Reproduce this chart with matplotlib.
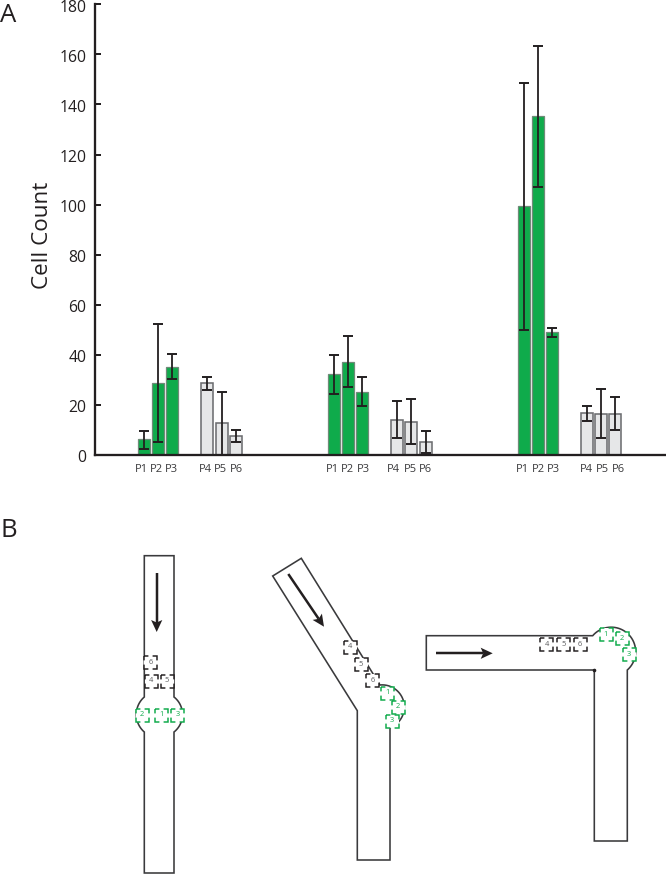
import numpy as np
import matplotlib
matplotlib.use("Agg")
import matplotlib.pyplot as plt
from matplotlib.patches import Rectangle, Polygon
from matplotlib.transforms import ScaledTranslation

plt.rcParams['font.family'] = ['Open Sans', 'DejaVu Sans']
plt.rcParams['lines.scale_dashes'] = False

W, H = 666, 875
INK = '#231f20'
GREEN = '#0fab4b'
GREY = '#e6e7e8'
PX = 72 / 100

# ---- panel A data
labels = ['P1', 'P2', 'P3', 'P4', 'P5', 'P6']
yticks = [0, 20, 40, 60, 80, 100, 120, 140, 160, 180]
values_g1 = [6.3, 28.9, 35.3, 28.6, 12.6, 7.7]
low_g1 = [2.5, 5.0, 30.2, 26.0, 0.0, 5.0]
high_g1 = [9.7, 52.5, 40.3, 31.3, 25.0, 10.1]
values_g2 = [32.4, 37.3, 25.2, 14.1, 13.3, 5.3]
low_g2 = [24.5, 27.0, 19.6, 6.7, 4.3, 0.9]
high_g2 = [40.0, 47.5, 31.0, 21.6, 22.4, 9.6]
values_g3 = [99.3, 135.3, 49.0, 16.6, 16.4, 16.5]
low_g3 = [50.0, 107.0, 47.3, 13.7, 6.8, 10.0]
high_g3 = [148.5, 163.4, 50.9, 19.6, 26.2, 23.0]

bar_x_g1 = [144, 158.3, 172.3, 207.3, 221.7, 235.7]
bar_x_g2 = [334, 348, 362.3, 397.3, 411.3, 425.7]
bar_x_g3 = [523.7, 538, 552, 587, 601.3, 615.3]
label_x_g1 = [141.7, 156, 171.7, 205, 220.7, 236]
label_x_g2 = [332.3, 347.7, 363.3, 393.3, 410, 425.3]
label_x_g3 = [522, 538.3, 553.7, 586.7, 602.7, 618.3]

fig = plt.figure(figsize=(W / 100, H / 100), dpi=100)
top_px, base_px, left_px = 4.3, 455.0, 95.0
ax = fig.add_axes([left_px / W, 1 - base_px / H, 1 - left_px / W, (base_px - top_px) / H])
ax.set_xlim(left_px, W)
ax.set_ylim(0, 180)
ax.patch.set_alpha(0)
for s in ('top', 'right'):
    ax.spines[s].set_visible(False)
for s in ('left', 'bottom'):
    ax.spines[s].set_linewidth(2.3 * PX)
    ax.spines[s].set_color(INK)

for xs, vals, lo, hi in ((bar_x_g1, values_g1, low_g1, high_g1),
                         (bar_x_g2, values_g2, low_g2, high_g2),
                         (bar_x_g3, values_g3, low_g3, high_g3)):
    xs, vals, lo, hi = map(np.array, (xs, vals, lo, hi))
    for i in range(6):
        green = i < 3
        ax.bar(xs[i], vals[i], width=11.8, color=GREEN if green else GREY,
               edgecolor='#6f8a78' if green else '#6d6e71',
               linewidth=0.9 if green else 1.15, zorder=2)
    ax.errorbar(xs, vals, yerr=[vals - lo, hi - vals], fmt='none', ecolor=INK,
                elinewidth=1.3, capsize=3.8, capthick=1.4, zorder=3, clip_on=False)

ax.set_yticks(yticks)
ax.tick_params(axis='y', direction='in', length=6 * PX, width=2.0 * PX, color=INK,
               labelsize=11.3, labelcolor=INK, pad=6.2)
shift = ScaledTranslation(0, -2.5 / 72 * PX * 1.39, fig.dpi_scale_trans)
for t in ax.get_yticklabels():
    t.set_va('center')
    t.set_transform(t.get_transform() + shift)
ax.set_xticks(label_x_g1 + label_x_g2 + label_x_g3)
ax.set_xticklabels(labels * 3, fontsize=8.0, color='#3a3a3c')
ax.tick_params(axis='x', length=0, pad=6.2)
ax.set_ylabel('Cell Count', fontsize=16.2, color=INK, labelpad=0)
ax.yaxis.set_label_coords((53 - left_px) / (W - left_px), (455 - 235) / (455 - 4.3))

# ---- panel B schematics, drawn in pixel coordinates
sk = fig.add_axes([0, 0, 1, 1], zorder=5)
sk.set_xlim(0, W)
sk.set_ylim(H, 0)
sk.axis('off')
sk.patch.set_alpha(0)

fig.text(0.5 / W, 1 - 22.5 / H, 'A', fontsize=18.5, color=INK, va='baseline')
fig.text(0.5 / W, 1 - 537 / H, 'B', fontsize=18.5, color=INK, va='baseline')


def arc(p0, pm, p1, n=40):
    (ax_, ay), (bx, by), (cx, cy) = p0, pm, p1
    d = 2 * (ax_ * (by - cy) + bx * (cy - ay) + cx * (ay - by))
    ux = ((ax_**2 + ay**2) * (by - cy) + (bx**2 + by**2) * (cy - ay) + (cx**2 + cy**2) * (ay - by)) / d
    uy = ((ax_**2 + ay**2) * (cx - bx) + (bx**2 + by**2) * (ax_ - cx) + (cx**2 + cy**2) * (bx - ax_)) / d
    r = np.hypot(ax_ - ux, ay - uy)
    a0, am, a1 = [np.arctan2(y - uy, x - ux) for x, y in (p0, pm, p1)]
    am = a0 + (am - a0 + np.pi) % (2 * np.pi) - np.pi
    a1 = a0 + (a1 - a0 + np.pi) % (2 * np.pi) - np.pi
    if (am - a0) * (a1 - a0) < 0 or abs(am - a0) > abs(a1 - a0):
        a1 = a1 + np.sign(am - a0) * 2 * np.pi
    t = np.linspace(a0, a1, n)
    return list(zip(ux + r * np.cos(t), uy + r * np.sin(t)))


def channel(pts):
    sk.add_patch(Polygon(pts, closed=True, fill=False, edgecolor='#3a3a3c',
                         linewidth=1.6 * PX, joinstyle='miter'))


def arrow(p0, p1):
    p0, p1 = np.array(p0, float), np.array(p1, float)
    u = (p1 - p0) / np.hypot(*(p1 - p0))
    n = np.array([-u[1], u[0]])
    base = p1 - u * 12
    notch = p1 - u * 9.5
    sk.plot([p0[0], notch[0]], [p0[1], notch[1]], color=INK, lw=2.5 * PX, solid_capstyle='butt')
    sk.add_patch(Polygon([p1, base + n * 5.6, notch, base - n * 5.6], closed=True,
                         facecolor=INK, edgecolor='none'))


def box(c, txt, col):
    s = 13.0
    L = 4.4
    g = s - 2 * L
    sk.add_patch(Rectangle((c[0] - s / 2, c[1] - s / 2), s, s, facecolor='white', edgecolor=col,
                           linewidth=1.5 * PX,
                           linestyle=(L * PX, (2 * L * PX, g * PX)), zorder=3))
    sk.text(c[0], c[1], txt, fontsize=5.4, color='#58595b' if col == INK else GREEN,
            ha='center', va='center', zorder=4)


# straight channel
ch1 = [(144.3, 555.7), (174, 555.7), (174, 697)] + arc((174, 697), (182.5, 714.5), (174, 732)) \
      + [(174, 873), (144.3, 873), (144.3, 732)] + arc((144.3, 732), (136.3, 714.5), (144.3, 697))
channel(ch1)
arrow((156.7, 573), (156.7, 632))
box((150.7, 662), '6', INK)
box((151, 681), '4', INK)
box((167, 681), '5', INK)
box((142.3, 715), '2', GREEN)
box((161, 715), '1', GREEN)
box((177.7, 715), '3', GREEN)

# 45 degree bend
ch2 = [(272.7, 576), (301.3, 558.3), (380, 685)] + arc((380, 685), (404.3, 708), (390, 727.7)) \
      + [(390, 860), (357.3, 860), (357.3, 710.7)]
channel(ch2)
arrow((288.3, 574), (324, 626.7))
box((350.3, 647), '4', INK)
box((361, 664.7), '5', INK)
box((372.3, 680.7), '6', INK)
box((387, 693), '1', GREEN)
box((398, 707), '2', GREEN)
box((392, 721), '3', GREEN)

# 90 degree bend
ch3 = [(426.3, 635.7), (592.7, 635.7)] + arc((592.7, 635.7), (630, 636), (627.3, 670)) \
      + [(627.3, 841), (594.3, 841), (594.3, 670), (426.3, 670)]
channel(ch3)
sk.plot([594.3], [670], 'o', ms=1.6, color=INK)
arrow((436, 653.3), (492.7, 653.3))
box((546.7, 644.7), '4', INK)
box((563.7, 644.7), '5', INK)
box((580, 644.7), '6', INK)
box((606, 634), '1', GREEN)
box((622.3, 638.3), '2', GREEN)
box((629.3, 654.3), '3', GREEN)

fig.savefig('out.png', dpi=100)
